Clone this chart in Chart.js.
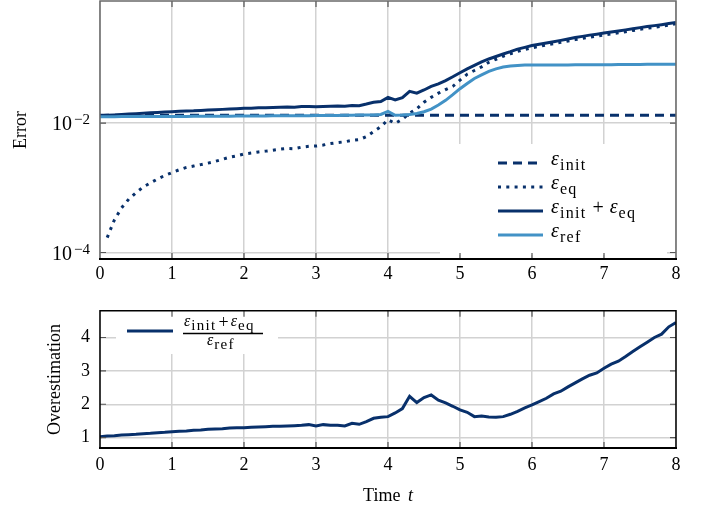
<!DOCTYPE html>
<html>
<head>
<meta charset="utf-8">
<script src="https://cdn.jsdelivr.net/npm/chart.js@4"></script>
<style>
  body { margin: 0; background: #fff; }
  #wrap { position: relative; width: 710px; height: 508px; }
  #topChart { position: absolute; left: 0; top: 0; }
  #bottomChart { position: absolute; left: 0; top: 290px; }
</style>
</head>
<body>
<div id="wrap">
  <canvas id="topChart" width="710" height="290"></canvas>
  <canvas id="bottomChart" width="710" height="218"></canvas>
</div>
<script>
// time grid (t = 0 .. 8)
const time = [
  0.0, 0.1, 0.2, 0.3, 0.4, 0.5, 0.6, 0.7, 0.8, 0.9,
  1.0, 1.1, 1.2, 1.3, 1.4, 1.5, 1.6, 1.7, 1.8, 1.9,
  2.0, 2.1, 2.2, 2.3, 2.4, 2.5, 2.6, 2.7, 2.8, 2.9,
  3.0, 3.1, 3.2, 3.3, 3.4, 3.5, 3.6, 3.7, 3.8, 3.9,
  4.0, 4.1, 4.2, 4.3, 4.4, 4.5, 4.6, 4.7, 4.8, 4.9,
  5.0, 5.1, 5.2, 5.3, 5.4, 5.5, 5.6, 5.7, 5.8, 5.9,
  6.0, 6.1, 6.2, 6.3, 6.4, 6.5, 6.6, 6.7, 6.8, 6.9,
  7.0, 7.1, 7.2, 7.3, 7.4, 7.5, 7.6, 7.7, 7.8, 7.9, 8.0
];

// eps_init is flat over the whole run
const initTime = [0, 8];
const errInit = [0.0132, 0.0132];

const errEq = [
  null, 1.7e-4, 3.2e-4, 4.9e-4, 6.7e-4, 8.4e-4, 1.03e-3, 1.19e-3, 1.37e-3, 1.55e-3,
  1.72e-3, 1.90e-3, 2.07e-3, 2.17e-3, 2.28e-3, 2.41e-3, 2.56e-3, 2.75e-3, 2.97e-3, 3.12e-3,
  3.33e-3, 3.44e-3, 3.58e-3, 3.69e-3, 3.80e-3, 3.95e-3, 4.06e-3, 4.02e-3, 4.25e-3, 4.38e-3,
  4.42e-3, 4.58e-3, 4.82e-3, 5.00e-3, 5.15e-3, 5.40e-3, 5.55e-3, 6.20e-3, 7.40e-3, 8.80e-3,
  1.13e-2, 9.90e-3, 1.15e-2, 1.42e-2, 1.66e-2, 2.10e-2, 2.50e-2, 2.90e-2, 3.30e-2, 3.70e-2,
  4.60e-2, 5.70e-2, 6.50e-2, 7.40e-2, 8.70e-2, 9.70e-2, 0.108, 0.118, 0.128, 0.137,
  0.146, 0.153, 0.161, 0.169, 0.177, 0.186, 0.195, 0.204, 0.213, 0.221,
  0.230, 0.239, 0.249, 0.259, 0.270, 0.281, 0.292, 0.303, 0.315, 0.328, 0.342
];

const errSum = [
  0.0130, 0.0132, 0.0134, 0.0136, 0.0138, 0.0140, 0.0142, 0.0144, 0.0146, 0.0148,
  0.0150, 0.0152, 0.0154, 0.0155, 0.0157, 0.0159, 0.0161, 0.0163, 0.0165, 0.0167,
  0.0169, 0.0170, 0.0172, 0.0173, 0.0174, 0.0176, 0.0177, 0.0176, 0.0180, 0.0181,
  0.0179, 0.0181, 0.0182, 0.0183, 0.0182, 0.0187, 0.0186, 0.0197, 0.0210, 0.0215,
  0.0250, 0.0228, 0.0248, 0.0310, 0.0290, 0.0325, 0.0370, 0.0405, 0.0455, 0.0520,
  0.0600, 0.0690, 0.0780, 0.0880, 0.0980, 0.1070, 0.1170, 0.1270, 0.1390, 0.1480,
  0.1580, 0.1650, 0.1730, 0.1810, 0.1900, 0.2000, 0.2100, 0.2190, 0.2290, 0.2370,
  0.2460, 0.2550, 0.2650, 0.2760, 0.2880, 0.2990, 0.3100, 0.3210, 0.3320, 0.3450, 0.3580
];

const errRef = [
  0.0125, 0.0125, 0.0125, 0.0126, 0.0126, 0.0126, 0.0126, 0.0126, 0.0127, 0.0127,
  0.0127, 0.0127, 0.0127, 0.0128, 0.0128, 0.0128, 0.0128, 0.0128, 0.0128, 0.0129,
  0.0129, 0.0129, 0.0129, 0.0129, 0.0130, 0.0130, 0.0130, 0.0130, 0.0130, 0.0130,
  0.0131, 0.0131, 0.0131, 0.0131, 0.0132, 0.0132, 0.0133, 0.0133, 0.0134, 0.0136,
  0.0152, 0.0132, 0.0133, 0.0136, 0.0141, 0.0150, 0.0165, 0.0190, 0.0225, 0.0275,
  0.0340, 0.0410, 0.0490, 0.0555, 0.0630, 0.0690, 0.0735, 0.0765, 0.0780, 0.0788,
  0.0790, 0.0791, 0.0792, 0.0792, 0.0793, 0.0794, 0.0795, 0.0796, 0.0797, 0.0798,
  0.0800, 0.0801, 0.0803, 0.0804, 0.0806, 0.0808, 0.0809, 0.0811, 0.0812, 0.0814, 0.0815
];

const overest = [
  1.03, 1.05, 1.06, 1.08, 1.09, 1.10, 1.12, 1.13, 1.15, 1.16,
  1.18, 1.19, 1.20, 1.22, 1.23, 1.25, 1.26, 1.27, 1.29, 1.30,
  1.30, 1.31, 1.32, 1.33, 1.34, 1.34, 1.35, 1.36, 1.37, 1.39,
  1.35, 1.39, 1.37, 1.37, 1.35, 1.43, 1.40, 1.48, 1.58, 1.61,
  1.63, 1.74, 1.87, 2.24, 2.05, 2.20, 2.28, 2.12, 2.04, 1.94,
  1.83, 1.76, 1.63, 1.65, 1.62, 1.61, 1.63, 1.70, 1.79, 1.89,
  1.98, 2.08, 2.18, 2.31, 2.39, 2.52, 2.64, 2.76, 2.87, 2.94,
  3.08, 3.20, 3.29, 3.43, 3.58, 3.72, 3.86, 4.00, 4.10, 4.32, 4.45
];

const xTicks = [0, 1, 2, 3, 4, 5, 6, 7, 8];
const errTicks = [1e-4, 1e-2];
const errTickExp = ['−4', '−2'];
const overTicks = [1, 2, 3, 4];

const dark = '#08306b';
const light = '#4292c6';
const serif = "'Liberation Serif', 'Times New Roman', serif";

function pts(xs, ys) {
  return xs.map((x, i) => ({ x: x, y: ys[i] }));
}

// epsilon with an upright subscript, returns the x where it ends
function eps(ctx, x, y, sub, size, subSize, drop) {
  ctx.font = 'italic ' + size + 'px ' + serif;
  ctx.letterSpacing = '0px';
  ctx.fillText('ε', x, y);
  x += ctx.measureText('ε').width + 1;
  ctx.font = subSize + 'px ' + serif;
  ctx.letterSpacing = '1.3px';
  ctx.fillText(sub, x, y + drop);
  const w = ctx.measureText(sub).width;
  ctx.letterSpacing = '0px';
  return x + w;
}

// inner tick marks plus the box around the plot
const frame = {
  id: 'frame',
  afterDatasetsDraw(chart, args, opts) {
    const { ctx, chartArea: a, scales } = chart;
    ctx.save();
    ctx.strokeStyle = '#555';
    ctx.lineWidth = 1.2;
    ctx.beginPath();
    scales.x.ticks.forEach(t => {
      if (t.value <= 0 || t.value >= 8) return;
      const px = scales.x.getPixelForValue(t.value);
      ctx.moveTo(px, a.top); ctx.lineTo(px, a.top + 6);
      ctx.moveTo(px, a.bottom); ctx.lineTo(px, a.bottom - 6);
    });
    scales.y.ticks.forEach(t => {
      const py = scales.y.getPixelForValue(t.value);
      ctx.moveTo(a.left, py); ctx.lineTo(a.left + 6, py);
      ctx.moveTo(a.right, py); ctx.lineTo(a.right - 6, py);
    });
    ctx.stroke();
    ctx.strokeStyle = opts.side || '#000';
    ctx.lineWidth = 1.5;
    ctx.beginPath();
    ctx.moveTo(a.left, a.bottom);
    ctx.lineTo(a.left, a.top);
    ctx.lineTo(a.right, a.top);
    ctx.lineTo(a.right, a.bottom);
    ctx.stroke();
    ctx.strokeStyle = '#000';
    ctx.lineWidth = 2;
    ctx.beginPath();
    ctx.moveTo(a.left - 1, a.bottom);
    ctx.lineTo(a.right + 1, a.bottom);
    ctx.stroke();
    ctx.restore();
  }
};

// 10^k labels for the log axis
const powLabels = {
  id: 'powLabels',
  afterDraw(chart) {
    const { ctx, scales } = chart;
    ctx.save();
    ctx.fillStyle = '#000';
    ctx.textBaseline = 'alphabetic';
    ctx.textAlign = 'left';
    errTicks.forEach((v, i) => {
      const py = scales.y.getPixelForValue(v);
      ctx.font = '15px ' + serif;
      const ew = ctx.measureText(errTickExp[i]).width;
      ctx.font = '20px ' + serif;
      const bw = ctx.measureText('10').width;
      const right = 90;
      ctx.fillText('10', right - ew - bw - 2, py + 7);
      ctx.font = '15px ' + serif;
      ctx.fillText(errTickExp[i], right - ew, py + 1);
    });
    ctx.restore();
  }
};

const topLegend = {
  id: 'topLegend',
  afterDatasetsDraw(chart) {
    const ctx = chart.ctx;
    ctx.save();
    ctx.fillStyle = '#fff';
    ctx.fillRect(440, 144, 227, 111);
    const rows = [163, 187, 211, 235];
    const styles = [
      { c: dark, d: [9, 6] },
      { c: dark, d: [3, 5.3] },
      { c: dark, d: [] },
      { c: light, d: [] }
    ];
    rows.forEach((y, i) => {
      ctx.strokeStyle = styles[i].c;
      ctx.lineWidth = 3;
      ctx.setLineDash(styles[i].d);
      ctx.lineCap = 'butt';
      ctx.beginPath();
      ctx.moveTo(498, y);
      ctx.lineTo(543, y);
      ctx.stroke();
    });
    ctx.setLineDash([]);
    ctx.fillStyle = '#000';
    ctx.textBaseline = 'alphabetic';
    ctx.textAlign = 'left';
    eps(ctx, 551, rows[0] + 2, 'init', 20, 16, 5);
    eps(ctx, 551, rows[1] + 2, 'eq', 20, 16, 5);
    let x = eps(ctx, 551, rows[2] + 2, 'init', 20, 16, 5);
    ctx.font = '20px ' + serif;
    ctx.fillText('+', x + 6, rows[2] + 3);
    x += 6 + ctx.measureText('+').width + 6;
    eps(ctx, x, rows[2] + 2, 'eq', 20, 16, 5);
    eps(ctx, 551, rows[3] + 2, 'ref', 20, 16, 5);
    ctx.restore();
  }
};

const bottomLegend = {
  id: 'bottomLegend',
  afterDatasetsDraw(chart) {
    const ctx = chart.ctx;
    const oy = 290;
    ctx.save();
    ctx.fillStyle = '#fff';
    ctx.fillRect(116, 307 - oy, 162, 47);
    ctx.strokeStyle = dark;
    ctx.lineWidth = 3;
    ctx.beginPath();
    ctx.moveTo(127, 331 - oy);
    ctx.lineTo(173, 331 - oy);
    ctx.stroke();
    ctx.fillStyle = '#000';
    ctx.textBaseline = 'alphabetic';
    ctx.textAlign = 'left';
    let x = eps(ctx, 184, 326 - oy, 'init', 16, 15, 4);
    ctx.font = '18px ' + serif;
    ctx.fillText('+', x + 2, 328 - oy);
    x += 2 + ctx.measureText('+').width + 2;
    eps(ctx, x, 326 - oy, 'eq', 16, 15, 4);
    ctx.strokeStyle = '#000';
    ctx.lineWidth = 1.3;
    ctx.beginPath();
    ctx.moveTo(183, 333.5 - oy);
    ctx.lineTo(263, 333.5 - oy);
    ctx.stroke();
    eps(ctx, 207, 345 - oy, 'ref', 16, 15, 4);
    ctx.restore();
  }
};

const timeTitle = {
  id: 'timeTitle',
  afterDraw(chart) {
    const ctx = chart.ctx;
    ctx.save();
    ctx.fillStyle = '#000';
    ctx.textBaseline = 'alphabetic';
    ctx.textAlign = 'left';
    ctx.font = '18px ' + serif;
    const w1 = ctx.measureText('Time ').width;
    ctx.font = 'italic 18px ' + serif;
    const w2 = ctx.measureText('t').width;
    const x0 = 388 - (w1 + w2 + 3) / 2;
    ctx.font = '18px ' + serif;
    ctx.fillText('Time ', x0, 501 - 290);
    ctx.font = 'italic 18px ' + serif;
    ctx.fillText('t', x0 + w1 + 3, 501 - 290);
    ctx.restore();
  }
};

const gridStyle = { color: '#d2d2d2', lineWidth: 1.5, drawTicks: false };

new Chart(document.getElementById('topChart'), {
  type: 'line',
  data: {
    datasets: [
      { data: pts(time, errRef), borderColor: light, borderWidth: 3 },
      { data: pts(time, errSum), borderColor: dark, borderWidth: 3 },
      { data: pts(time, errEq), borderColor: dark, borderWidth: 3, borderDash: [3, 5.3] },
      { data: pts(initTime, errInit), borderColor: dark, borderWidth: 3, borderDash: [9, 6] }
    ]
  },
  options: {
    responsive: false,
    devicePixelRatio: 1,
    animation: false,
    elements: { point: { radius: 0 }, line: { tension: 0, borderCapStyle: 'butt' } },
    layout: { padding: { left: 0, right: 34, top: 1, bottom: 0 } },
    plugins: { legend: { display: false }, tooltip: { enabled: false }, frame: { side: '#6a6a6a' } },
    scales: {
      x: {
        type: 'linear', min: 0, max: 8,
        afterBuildTicks: s => { s.ticks = xTicks.map(v => ({ value: v })); },
        afterFit: s => { s.height = 31; },
        ticks: { font: { family: serif, size: 18 }, color: '#000', padding: 4 },
        grid: gridStyle,
        border: { display: false }
      },
      y: {
        type: 'logarithmic', min: 7.94e-5, max: 0.771,
        afterBuildTicks: s => { s.ticks = errTicks.map(v => ({ value: v })); },
        afterFit: s => { s.width = 100; },
        ticks: { display: false },
        grid: gridStyle,
        border: { display: false },
        title: { display: true, text: 'Error', font: { family: serif, size: 18 }, color: '#000', padding: { top: 10, bottom: 0 } }
      }
    }
  },
  plugins: [topLegend, frame, powLabels]
});

new Chart(document.getElementById('bottomChart'), {
  type: 'line',
  data: {
    datasets: [
      { data: pts(time, overest), borderColor: dark, borderWidth: 3 }
    ]
  },
  options: {
    responsive: false,
    devicePixelRatio: 1,
    animation: false,
    elements: { point: { radius: 0 }, line: { tension: 0 } },
    layout: { padding: { left: 0, right: 34, top: 13, bottom: 0 } },
    plugins: { legend: { display: false }, tooltip: { enabled: false }, frame: { side: '#000' } },
    scales: {
      x: {
        type: 'linear', min: 0, max: 8,
        afterBuildTicks: s => { s.ticks = xTicks.map(v => ({ value: v })); },
        afterFit: s => { s.height = 60; },
        ticks: { font: { family: serif, size: 18 }, color: '#000', padding: 6 },
        grid: gridStyle,
        border: { display: false }
      },
      y: {
        type: 'linear', min: 0.69, max: 4.8,
        afterBuildTicks: s => { s.ticks = overTicks.map(v => ({ value: v })); },
        afterFit: s => { s.width = 100; },
        ticks: { font: { family: serif, size: 18 }, color: '#000', padding: 10 },
        grid: gridStyle,
        border: { display: false },
        title: { display: true, text: 'Overestimation', font: { family: serif, size: 18 }, color: '#000', padding: { top: 44, bottom: 0 } }
      }
    }
  },
  plugins: [bottomLegend, frame, timeTitle]
});
</script>
</body>
</html>
